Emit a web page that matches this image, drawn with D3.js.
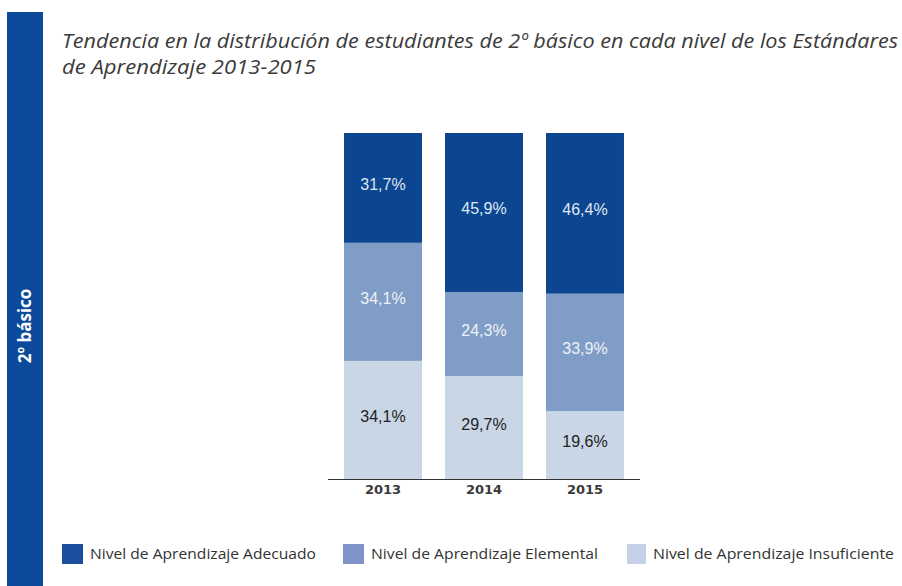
<!DOCTYPE html>
<html>
<head>
<meta charset="utf-8">
<script src="https://cdn.jsdelivr.net/npm/d3@7"></script>
<style>
  body { margin: 0; background: #fff; }
  svg { display: block; }
</style>
</head>
<body>
<div id="chart"></div>
<script>
// data
var years = ["2013", "2014", "2015"];
var seriesNames = ["Nivel de Aprendizaje Insuficiente", "Nivel de Aprendizaje Elemental", "Nivel de Aprendizaje Adecuado"];
var insuficiente = [34.1, 29.7, 19.6];
var elemental = [34.1, 24.3, 33.9];
var adecuado = [31.7, 45.9, 46.4];
var legendOrder = ["Nivel de Aprendizaje Adecuado", "Nivel de Aprendizaje Elemental", "Nivel de Aprendizaje Insuficiente"];

var width = 902, height = 586;
var svg = d3.select("#chart").append("svg")
  .attr("width", width)
  .attr("height", height);

// side band
svg.append("rect")
  .attr("x", 7).attr("y", 12)
  .attr("width", 36).attr("height", height - 12)
  .attr("fill", "#0b4a9a");
svg.append("text")
  .attr("transform", "translate(31,326) rotate(-90)")
  .attr("text-anchor", "middle")
  .attr("font-family", "Open Sans, sans-serif")
  .attr("font-weight", "bold")
  .attr("font-size", 17)
  .attr("fill", "#fff")
  .text("2º básico");

// title
var title = ["Tendencia en la distribución de estudiantes de 2º básico en cada nivel de los Estándares",
             "de Aprendizaje 2013-2015"];
svg.selectAll(".title").data(title).enter().append("text")
  .attr("class", "title")
  .attr("x", 62)
  .attr("y", function(d, i) { return 48 + i * 26; })
  .attr("font-family", "Open Sans, sans-serif")
  .attr("font-style", "italic")
  .attr("font-size", 20)
  .attr("fill", "#3a3a3a")
  .attr("textLength", function(d, i) { return i == 0 ? 836 : 254; })
  .attr("lengthAdjust", "spacingAndGlyphs")
  .text(function(d) { return d; });

// stacked data
var table = years.map(function(y, i) {
  var o = { year: y };
  o[seriesNames[0]] = insuficiente[i];
  o[seriesNames[1]] = elemental[i];
  o[seriesNames[2]] = adecuado[i];
  return o;
});
var stacked = d3.stack().keys(seriesNames)(table);

var x = d3.scaleBand()
  .domain(years)
  .range([332.5, 635.5])
  .paddingInner(0.228)
  .paddingOuter(0.114);

var y = d3.scaleLinear()
  .domain([0, 99.9])
  .range([479, 133]);

var colors = { };
colors[seriesNames[0]] = "#c8d6e6";
colors[seriesNames[1]] = "#7f9dc6";
colors[seriesNames[2]] = "#0c4590";
var legendColors = { };
legendColors[seriesNames[0]] = "#c6cfe8";
legendColors[seriesNames[1]] = "#7f93c9";
legendColors[seriesNames[2]] = "#1b4f9e";
var labelColors = { };
labelColors[seriesNames[0]] = "#222";
labelColors[seriesNames[1]] = "#eef2f8";
labelColors[seriesNames[2]] = "#dfe7f3";

var groups = svg.selectAll(".serie").data(stacked).enter().append("g")
  .attr("class", "serie");

groups.selectAll("rect").data(function(d) { return d; }).enter().append("rect")
  .attr("x", function(d) { return x(d.data.year); })
  .attr("y", function(d) { return y(d[1]); })
  .attr("width", x.bandwidth())
  .attr("height", function(d) { return y(d[0]) - y(d[1]); })
  .attr("fill", function() { return colors[d3.select(this.parentNode).datum().key]; });

groups.each(function(s) {
  d3.select(this).selectAll("text").data(s).enter().append("text")
    .attr("x", function(d) { return x(d.data.year) + x.bandwidth() / 2; })
    .attr("y", function(d) { return (y(d[0]) + y(d[1])) / 2 + 2; })
    .attr("text-anchor", "middle")
    .attr("font-family", "Liberation Sans, Arial, sans-serif")
    .attr("font-size", 16)
    .attr("fill", labelColors[s.key])
    .text(function(d) { return (d[1] - d[0]).toFixed(1).replace(".", ",") + "%"; });
});

// axis
var xAxis = svg.append("g")
  .attr("transform", "translate(0,479)")
  .call(d3.axisBottom(x).tickSize(0).tickPadding(6));
xAxis.select(".domain").attr("d", "M328,0.5H640").attr("stroke", "#333");
xAxis.selectAll("text")
  .attr("font-family", "DejaVu Sans, Verdana, sans-serif")
  .attr("font-weight", "bold")
  .attr("font-size", 13)
  .attr("fill", "#3a3a3a");

// legend
var legendX = [62, 343, 627];
var legendText = [28, 28, 26];
var legendLen = [226, 227, 241];
var legend = svg.selectAll(".legend").data(legendOrder).enter().append("g")
  .attr("class", "legend")
  .attr("transform", function(d, i) { return "translate(" + legendX[i] + ",544)"; });
legend.append("rect")
  .attr("width", function(d, i) { return i == 2 ? 19 : 21; })
  .attr("height", 20)
  .attr("fill", function(d) { return legendColors[d]; });
legend.append("text")
  .attr("x", function(d, i) { return legendText[i]; })
  .attr("y", 15)
  .attr("font-family", "Open Sans, sans-serif")
  .attr("font-size", 15)
  .attr("fill", "#333")
  .attr("textLength", function(d, i) { return legendLen[i]; })
  .attr("lengthAdjust", "spacingAndGlyphs")
  .text(function(d) { return d; });
</script>
</body>
</html>
